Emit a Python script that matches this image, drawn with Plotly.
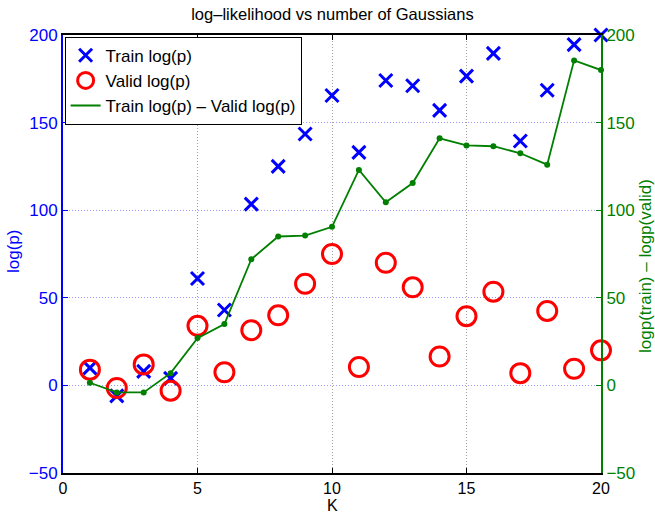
import plotly.graph_objects as go

K = list(range(1, 21))
train = [10, -6, 8, 4, 61, 43, 103.5, 125, 143.5, 165.5, 133, 174, 171, 157, 176.5, 189.5, 139.5, 168.5, 194.5, 200]
valid = [9, -1.5, 12, -3, 34, 7.5, 31.5, 40, 58, 75, 10.5, 70, 56, 16.5, 39.5, 53.5, 7, 42.5, 9.5, 20]
diff = [1.5, -4, -4, 7, 27, 35, 72, 85, 85.5, 90.5, 123, 104.5, 115.5, 141, 137, 136.5, 132.5, 126, 185.5, 180]

xticks = [0, 5, 10, 15, 20]
yticks = [-50, 0, 50, 100, 150, 200]

BLUE = "#0000ff"
RED = "#ff0000"
GREEN = "#007f00"
FONT = "Liberation Sans, Arial, sans-serif"

W, H = 655, 515
ML, MR, MT, MB = 63, 54, 35, 42

fig = go.Figure()
fig.add_trace(go.Scatter(x=K, y=train, mode="markers", name="Train log(p)",
                         marker=dict(symbol="x-thin", size=13, line=dict(width=3, color=BLUE), color=BLUE),
                         yaxis="y", cliponaxis=False))
fig.add_trace(go.Scatter(x=K, y=valid, mode="markers", name="Valid log(p)",
                         marker=dict(symbol="circle-open", size=19, line=dict(width=3, color=RED), color=RED),
                         yaxis="y", cliponaxis=False))
fig.add_trace(go.Scatter(x=K, y=diff, mode="lines+markers", name="Train log(p) − Valid log(p)",
                         line=dict(color=GREEN, width=1.8),
                         marker=dict(symbol="circle", size=6, color=GREEN),
                         yaxis="y2", showlegend=False, cliponaxis=False))
fig.add_trace(go.Scatter(x=[None], y=[None], mode="lines", name="Train log(p) – Valid log(p)",
                         line=dict(color=GREEN, width=2), yaxis="y2"))

fig.update_layout(
    width=W, height=H,
    margin=dict(l=ML, r=MR, t=MT, b=MB, autoexpand=False),
    paper_bgcolor="white", plot_bgcolor="white",
    font=dict(family=FONT, size=17, color="black"),
    title=dict(text="log–likelihood vs number of Gaussians", x=(ML + (W - MR)) / 2 / W - 0.006, xref="paper",
               xanchor="center", y=1 - 14 / H, yref="container", yanchor="middle",
               font=dict(size=16.5)),
    showlegend=True,
    legend=dict(x=0.003, y=0.996, xanchor="left", yanchor="top", bgcolor="white",
                bordercolor="black", borderwidth=1, font=dict(size=17),
                tracegroupgap=0, itemsizing="trace"),
    xaxis=dict(range=[0, 20], tickvals=xticks, showline=True, linecolor="black", linewidth=2,
               mirror="ticks", ticks="inside", ticklen=5, tickcolor="black", automargin=False,
               showgrid=True, gridcolor="#a0a0a0", griddash="1px,2px", gridwidth=1,
               zeroline=False, tickfont=dict(size=16, color="black")),
    yaxis=dict(range=[-50, 200], tickvals=yticks, showline=True, linecolor=BLUE, linewidth=2,
               ticks="inside", ticklen=5, tickcolor=BLUE, automargin=False,
               showgrid=True, gridcolor="#9a9aff", griddash="1px,2px", gridwidth=1,
               zeroline=False, tickfont=dict(size=17, color=BLUE)),
    yaxis2=dict(range=[-50, 200], tickvals=yticks, overlaying="y", side="right",
                showline=True, linecolor=GREEN, linewidth=2, automargin=False,
                ticks="inside", ticklen=5, tickcolor=GREEN, showgrid=False, zeroline=False,
                tickfont=dict(size=17, color=GREEN)),
    annotations=[
        dict(text="log(p)", x=13, y=252, xref="paper", yref="paper", showarrow=False,
             textangle=-90, font=dict(size=17, color=BLUE), xanchor="center", yanchor="middle"),
        dict(text="logp(train) – logp(valid)", x=645, y=266, xref="paper", yref="paper", showarrow=False,
             textangle=-90, font=dict(size=17, color=GREEN), xanchor="center", yanchor="middle"),
        dict(text="K", x=332, y=505, xref="paper", yref="paper", showarrow=False, borderpad=0,
             font=dict(size=16, color="black"), xanchor="center", yanchor="middle"),
    ],
)

# convert pixel positions of the axis-title annotations to paper coordinates
pw = W - ML - MR
ph = H - MT - MB
for a in fig.layout.annotations:
    a.x = (a.x - ML) / pw
    a.y = 1 - (a.y - MT) / ph

fig.write_html("out.html")
